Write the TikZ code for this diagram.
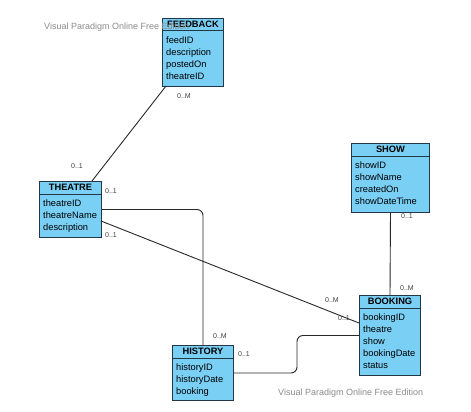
\documentclass[tikz,border=0pt]{standalone}
\usepackage{fontspec}
\setmainfont{Liberation Sans}
\usetikzlibrary{calc}
\definecolor{clsfill}{RGB}{122,207,245}
\definecolor{clsline}{RGB}{35,55,70}
\definecolor{conn}{RGB}{40,40,40}
\definecolor{wm}{RGB}{140,140,140}
\tikzset{
  classbox/.style={draw=clsline, line width=1pt, fill=clsfill, inner sep=0pt, anchor=north west},
  classhead/.style={font=\fontsize{9.3}{11}\selectfont\bfseries, inner sep=0pt, text=black},
  classattr/.style={font=\fontsize{9.3}{12}\selectfont, align=left, inner sep=0pt, anchor=north west, text=black},
  conline/.style={draw=conn, line width=0.9pt},
  mult/.style={font=\fontsize{7}{8}\selectfont, text=black!75, inner sep=0pt},
  watermark/.style={font=\fontsize{9}{10}\selectfont, text=wm, inner sep=0pt}
}
\newcommand{\umlclass}[7]{%
  % #1 name, #2 x, #3 y, #4 width, #5 height, #6 title, #7 attributes
  \node[classbox, minimum width=#4, minimum height=#5] (#1) at (#2,#3) {};
  \draw[clsline, line width=1pt] ($(#1.north west)+(0,13)$) -- ($(#1.north east)+(0,13)$);
  \node[classhead] (#1h) at ($(#1.north)+(0,6.5)$) {#6};
  \node[classattr] (#1a) at ($(#1.north west)+(4,19)$) {#7};
}
\begin{document}
\begin{tikzpicture}[x=1pt,y=-1pt]
\useasboundingbox (0,0) rectangle (471,412);
\fill[white] (0,0) rectangle (471,412);

% connector end points
\coordinate (fbA) at (166,86);
\coordinate (thA) at (92,181);
\coordinate (thB) at (101,221);
\coordinate (bkB) at (359,323);

\umlclass{fb}{162}{18}{61pt}{68pt}{FEEDBACK}{feedID\\description\\postedOn\\theatreID}
\umlclass{th}{39}{181}{62pt}{56pt}{THEATRE}{theatreID\\theatreName\\description}
\umlclass{sh}{351}{143}{78pt}{69pt}{SHOW}{showID\\showName\\createdOn\\showDateTime}
\umlclass{bk}{359}{295}{61pt}{80pt}{BOOKING}{bookingID\\theatre\\show\\bookingDate\\status}
\umlclass{hi}{172}{345}{61pt}{55pt}{HISTORY}{historyID\\historyDate\\booking}

\draw[conline] (fbA) -- (thA);
\draw[conline, rounded corners=6pt] (th.east) -| (hi.north);
\draw[conline] (thB) -- (bkB);
\draw[conline] (sh.south) -- (bk.north);
\draw[conline, rounded corners=6pt] (hi.east) -- ++(63,0) |- (bk.west);

% multiplicities
\node[mult] (m1) at (184,96) {0..M};
\node[mult] (m2) at (77,166) {0..1};
\node[mult] (m3) at (111,191) {0..1};
\node[mult] (m4) at (220,336) {0..M};
\node[mult] (m5) at (111,235) {0..1};
\node[mult] (m6) at (332,300) {0..M};
\node[mult] (m7) at (344,318) {0..1};
\node[mult] (m8) at (407,216) {0..1};
\node[mult] (m9) at (407,288) {0..M};
\node[mult] (m10) at (244,354) {0..1};

% watermarks
\node[watermark, anchor=west] (wm1) at (44,27) {Visual Paradigm Online Free Edition};
\node[watermark, anchor=west] (wm2) at (278,393) {Visual Paradigm Online Free Edition};
\end{tikzpicture}
\end{document}
